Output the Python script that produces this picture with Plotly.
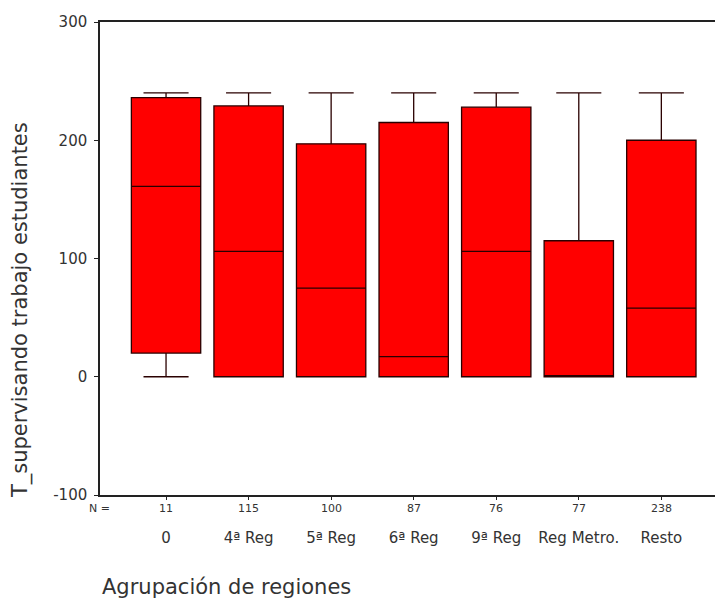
import plotly.graph_objects as go

categories = ["0", "4ª Reg", "5ª Reg", "6ª Reg", "9ª Reg", "Reg Metro.", "Resto"]
n_counts = [11, 115, 100, 87, 76, 77, 238]
lower_whisker = [0, 0, 0, 0, 0, 0, 0]
q1_vals = [20, 0, 0, 0, 0, 0, 0]
median_vals = [161, 106, 75, 17, 106, 0, 58]
q3_vals = [236, 229, 197, 215, 228, 115, 200]
upper_whisker = [240, 240, 240, 240, 240, 240, 240]
y_ticks = [-100, 0, 100, 200, 300]
y_tick_text = ["-100", "0", "100", "200", "300"]

font_family = "DejaVu Sans, Liberation Sans, sans-serif"
txt_color = "#333"

fig = go.Figure()
fig.add_trace(go.Box(
    x=categories,
    q1=q1_vals, median=median_vals, q3=q3_vals,
    lowerfence=lower_whisker, upperfence=upper_whisker,
    width=0.84,
    fillcolor="#ff0000",
    line=dict(color="#2a0000", width=1.3),
    whiskerwidth=0.65,
    boxpoints=False,
    hoverinfo="skip",
    showlegend=False,
))

annotations = []
for c, n in zip(categories, n_counts):
    annotations.append(dict(x=c, y=-0.0275, xref="x", yref="paper", text=str(n),
                            showarrow=False, yanchor="middle", xanchor="center",
                            font=dict(size=11, color=txt_color, family=font_family)))
annotations.append(dict(x=0.0195, y=-0.0275, xref="paper", yref="paper", text="N =",
                        showarrow=False, xanchor="right", yanchor="middle",
                        font=dict(size=11, color=txt_color, family=font_family)))
annotations.append(dict(x=0.0, y=-0.1945, xref="paper", yref="paper",
                        text="Agrupación de regiones", showarrow=False,
                        xanchor="left", yanchor="middle",
                        font=dict(size=21, color=txt_color, family=font_family)))
annotations.append(dict(x=-0.130, y=0.391, xref="paper", yref="paper",
                        text="T_supervisando trabajo estudiantes", showarrow=False,
                        textangle=-90, xanchor="center", yanchor="middle",
                        font=dict(size=21, color=txt_color, family=font_family)))

fig.update_layout(
    width=715, height=603,
    margin=dict(l=100, r=0, t=22, b=108),
    paper_bgcolor="white", plot_bgcolor="white",
    font=dict(family=font_family, color=txt_color),
    annotations=annotations,
)
fig.update_xaxes(
    type="category", range=[-0.8, 6.65],
    showline=True, linecolor="#222", linewidth=1.5, mirror=True,
    ticks="outside", ticklen=3, tickcolor="#222",
    ticklabelstandoff=25,
    tickfont=dict(size=15, color=txt_color),
    showgrid=False, zeroline=False,
)
fig.update_yaxes(
    range=[-100, 300], tickvals=y_ticks, ticktext=y_tick_text,
    showline=True, linecolor="#222", linewidth=1.5,
    ticks="outside", ticklen=4, tickcolor="#222",
    ticklabelstandoff=4,
    tickfont=dict(size=15, color=txt_color),
    showgrid=False, zeroline=False,
)

fig.write_html("out.html")
